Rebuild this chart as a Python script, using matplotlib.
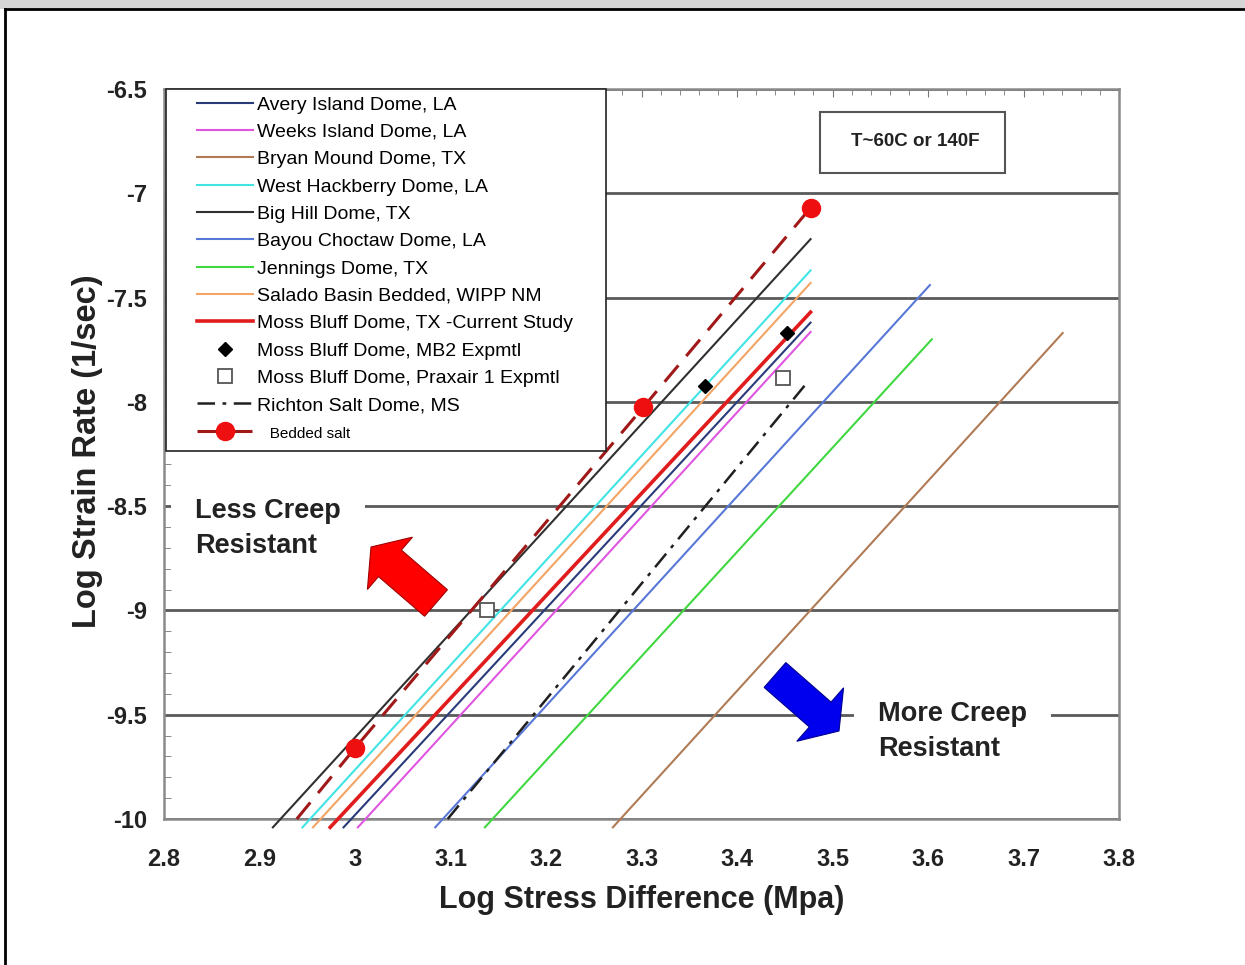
import numpy as np
import matplotlib.pyplot as plt
from matplotlib.patches import Polygon, Rectangle
from matplotlib.lines import Line2D
from matplotlib.ticker import MultipleLocator

plt.rcParams['font.family'] = ['Liberation Sans', 'DejaVu Sans']

W, H = 1245, 965
# axes box in pixels of the original picture
AX_L, AX_R, AX_T, AX_B = 164, 1119, 89, 819

# --- data (log stress, log strain rate) ---
avery_x = [2.988, 3.477]
avery_y = [-10.04, -7.62]
weeks_x = [3.003, 3.477]
weeks_y = [-10.04, -7.665]
bryan_x = [3.270, 3.741]
bryan_y = [-10.04, -7.67]
hack_x = [2.945, 3.477]
hack_y = [-10.04, -7.37]
bighill_x = [2.914, 3.477]
bighill_y = [-10.04, -7.22]
bayou_x = [3.084, 3.602]
bayou_y = [-10.04, -7.44]
jenn_x = [3.136, 3.604]
jenn_y = [-10.04, -7.70]
salado_x = [2.956, 3.477]
salado_y = [-10.04, -7.43]
moss_x = [2.974, 3.477]
moss_y = [-10.04, -7.57]
mb2_x = [3.367, 3.452]
mb2_y = [-7.924, -7.670]
praxair_x = [3.138, 3.448]
praxair_y = [-8.998, -7.886]
richton_x = [3.097, 3.473]
richton_y = [-10.0, -7.91]
bedded_x = [2.939, 3.0, 3.302, 3.477]
bedded_y = [-10.0, -9.66, -8.025, -7.07]

xticks = [2.8, 2.9, 3.0, 3.1, 3.2, 3.3, 3.4, 3.5, 3.6, 3.7, 3.8]
xtick_labels = ['2.8', '2.9', '3', '3.1', '3.2', '3.3', '3.4', '3.5', '3.6', '3.7', '3.8']
yticks = [-10, -9.5, -9, -8.5, -8, -7.5, -7, -6.5]
ytick_labels = ['-10', '-9.5', '-9', '-8.5', '-8', '-7.5', '-7', '-6.5']


def px_fig(x, y):
    return x / W, 1 - y / H


def px_ax(x, y):
    return (x - AX_L) / (AX_R - AX_L), (AX_B - y) / (AX_B - AX_T)


def block_arrow(tail, tip, shaft_w, head_w, head_len):
    """Vertices (figure fraction) of a flat block arrow given in pixels."""
    tail = np.array(tail, float)
    tip = np.array(tip, float)
    d = tip - tail
    d /= np.hypot(*d)
    n = np.array([-d[1], d[0]])
    base = tip - d * head_len
    pts = [tail + n * shaft_w / 2, base + n * shaft_w / 2, base + n * head_w / 2, tip,
           base - n * head_w / 2, base - n * shaft_w / 2, tail - n * shaft_w / 2]
    return [px_fig(*p) for p in pts]


fig = plt.figure(figsize=(W / 100, H / 100), dpi=100)
ax = fig.add_axes([AX_L / W, 1 - AX_B / H, (AX_R - AX_L) / W, (AX_B - AX_T) / H])

# picture frame
fig.add_artist(Rectangle((0, 1 - 9 / H), 1, 9 / H, transform=fig.transFigure,
                         fc='#d6d6d6', ec='none'))
fig.add_artist(Line2D([5 / W, 5 / W], [0, 1 - 9 / H], transform=fig.transFigure, color='black', lw=2))
fig.add_artist(Line2D([5 / W, 1], [1 - 9 / H, 1 - 9 / H], transform=fig.transFigure, color='black', lw=2))

kw = dict(clip_on=False, zorder=3)
h_avery, = ax.plot(avery_x, avery_y, color='#2a3b7a', lw=1.5, label='Avery Island Dome, LA', **kw)
h_weeks, = ax.plot(weeks_x, weeks_y, color='#e055e0', lw=1.5, label='Weeks Island Dome, LA', **kw)
h_bryan, = ax.plot(bryan_x, bryan_y, color='#b07a55', lw=1.5, label='Bryan Mound Dome, TX', **kw)
h_hack, = ax.plot(hack_x, hack_y, color='#40e4e4', lw=1.5, label='West Hackberry Dome, LA', **kw)
h_big, = ax.plot(bighill_x, bighill_y, color='#303030', lw=1.5, label='Big Hill Dome, TX', **kw)
h_bayou, = ax.plot(bayou_x, bayou_y, color='#5878d8', lw=1.5, label='Bayou Choctaw Dome, LA', **kw)
h_jenn, = ax.plot(jenn_x, jenn_y, color='#40d840', lw=1.5, label='Jennings Dome, TX', **kw)
h_salado, = ax.plot(salado_x, salado_y, color='#f2a465', lw=1.5, label='Salado Basin Bedded, WIPP NM', **kw)
h_moss, = ax.plot(moss_x, moss_y, color='#e01c1c', lw=2.6, label='Moss Bluff Dome, TX -Current Study', **kw)
h_rich, = ax.plot(richton_x, richton_y, color='#202020', lw=1.8, dashes=[7, 3, 1.5, 3],
                  label='Richton Salt Dome, MS', **kw)
h_bed, = ax.plot(bedded_x, bedded_y, color='#a01818', lw=2.2, dashes=[7, 4], marker='o',
                 markevery=[1, 2, 3], ms=13, mfc='#ee1010', mec='#ee1010',
                 label='   Bedded salt', **kw)
h_mb2, = ax.plot(mb2_x, mb2_y, ls='none', marker='D', ms=7, color='black',
                 label='Moss Bluff Dome, MB2 Expmtl', zorder=4)
h_prax, = ax.plot(praxair_x, praxair_y, ls='none', marker='s', ms=10, mfc='white', mec='#555555',
                  mew=1.3, label='Moss Bluff Dome, Praxair 1 Expmtl', zorder=4)

ax.set_xlim(2.8, 3.8)
ax.set_ylim(-10, -6.5)
ax.set_xticks(xticks, xtick_labels)
ax.set_yticks(yticks, ytick_labels)
ax.xaxis.set_minor_locator(MultipleLocator(0.02))
ax.yaxis.set_minor_locator(MultipleLocator(0.1))
for lab in ax.get_xticklabels() + ax.get_yticklabels():
    lab.set_fontsize(17)
    lab.set_fontweight('bold')
    lab.set_color('#222222')
ax.tick_params(axis='x', which='both', bottom=False, top=True, direction='in',
               color='#777777', pad=21)
ax.tick_params(axis='x', which='major', length=6)
ax.tick_params(axis='x', which='minor', length=4)
ax.tick_params(axis='y', which='major', length=0, pad=12)
ax.tick_params(axis='y', which='minor', direction='in', length=5, color='#777777')
ax.yaxis.grid(True, color='#5a5a5a', lw=2)
ax.set_axisbelow(True)
for sp in ax.spines.values():
    sp.set_color('#8a8a8a')
    sp.set_linewidth(1.8)

fig.text(*px_fig(642, 900), 'Log Stress Difference (Mpa)', ha='center', va='center',
         fontsize=22, fontweight='bold', color='#222222')
fig.text(*px_fig(88, 451), 'Log Strain Rate (1/sec)', ha='center', va='center', rotation=90,
         fontsize=23.5, fontweight='bold', color='#222222')

# legend box drawn separately so the entries can sit inset like the original
lx0, ly0 = px_ax(166, 451)
lx1, ly1 = px_ax(606, 89)
ax.add_patch(Rectangle((lx0, ly0), lx1 - lx0, ly1 - ly0, transform=ax.transAxes,
                       fc='white', ec='#222222', lw=1.2, zorder=6, clip_on=False))
handles = [h_avery, h_weeks, h_bryan, h_hack, h_big, h_bayou, h_jenn, h_salado, h_moss,
           h_mb2, h_prax, h_rich, h_bed]
leg = ax.legend(handles=handles, loc='upper left', bbox_to_anchor=px_ax(197, 96),
                frameon=False, fontsize=14, handlelength=2.9, handletextpad=0.2,
                labelspacing=0.5, borderpad=0, borderaxespad=0, numpoints=1)
leg.set_zorder(7)
leg.get_texts()[-1].set_fontsize(11)

# temperature note
tx0, ty0 = px_ax(820, 173)
tx1, ty1 = px_ax(1005, 112)
ax.add_patch(Rectangle((tx0, ty0), tx1 - tx0, ty1 - ty0, transform=ax.transAxes,
                       fc='white', ec='#555555', lw=1.5, zorder=5))
ax.text(*px_ax(915, 142), 'T~60C or 140F', transform=ax.transAxes, ha='center', va='center',
        fontsize=13.5, fontweight='bold', color='#222222', zorder=6)

# creep annotations
box = dict(boxstyle='square,pad=0.9', fc='white', ec='none')
ax.text(*px_ax(195, 498), 'Less Creep\nResistant', transform=ax.transAxes, ha='left', va='top',
        fontsize=19.5, fontweight='bold', color='#222222', linespacing=1.45, bbox=box, zorder=5)
ax.text(*px_ax(878, 701), 'More Creep\nResistant', transform=ax.transAxes, ha='left', va='top',
        fontsize=19.5, fontweight='bold', color='#222222', linespacing=1.45, bbox=box, zorder=5)

fig.add_artist(Polygon(block_arrow((436, 603), (371, 547), 35, 69, 25), closed=True,
                       transform=fig.transFigure, fc='#ff0000', ec='#a00000', lw=0.8))
fig.add_artist(Polygon(block_arrow((775, 675), (839, 731), 33, 71, 25), closed=True,
                       transform=fig.transFigure, fc='#0000ee', ec='#000090', lw=0.8))

fig.savefig('out.png', dpi=100)
